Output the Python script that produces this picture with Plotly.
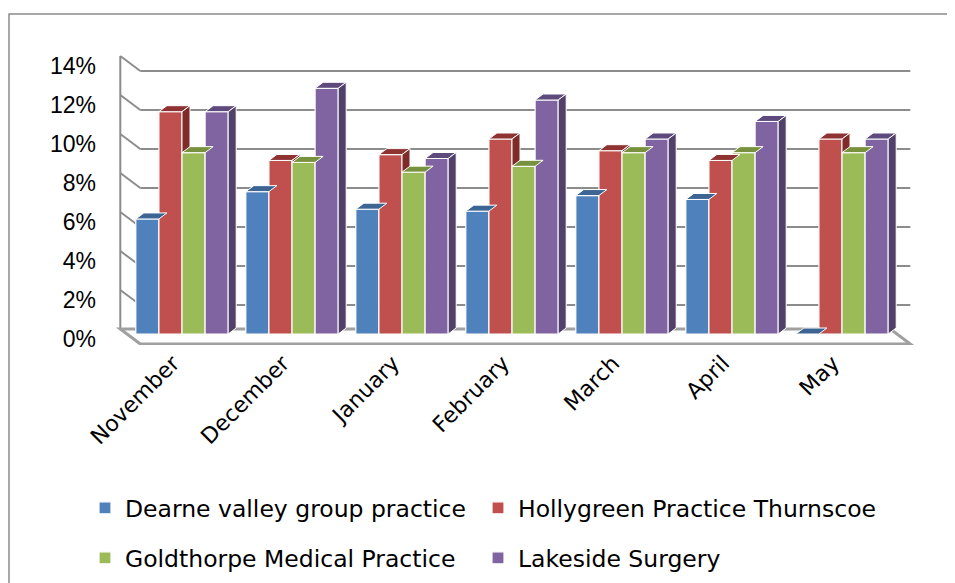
import plotly.graph_objects as go

# ---------------- data ----------------
months = ["November", "December", "January", "February", "March", "April", "May"]
series_names = [
    "Dearne valley group practice",
    "Hollygreen Practice Thurnscoe",
    "Goldthorpe Medical Practice",
    "Lakeside Surgery",
]
dearne = [5.9, 7.3, 6.4, 6.3, 7.1, 6.9, 0.0]
hollygreen = [11.4, 8.9, 9.2, 10.0, 9.4, 8.9, 10.0]
goldthorpe = [9.3, 8.8, 8.3, 8.6, 9.3, 9.3, 9.3]
lakeside = [11.4, 12.6, 9.0, 12.0, 10.0, 10.9, 10.0]
y_tick_values = [0, 2, 4, 6, 8, 10, 12, 14]
y_tick_labels = ["0%", "2%", "4%", "6%", "8%", "10%", "12%", "14%"]

series_values = [dearne, hollygreen, goldthorpe, lakeside]

# ---------------- styles ----------------
front_colors = ["#4F81BD", "#C0504D", "#9BBB59", "#8064A2"]
top_colors = ["#3C6594", "#8E3331", "#77913D", "#5E4A7C"]
side_colors = ["#2F4F76", "#7E2B29", "#627A30", "#51416A"]
grid_color = "#8C8C8C"
FONT = "DejaVu Sans"

# the page body has an 8px margin; compensate so the chart sits at the window origin
SHIFT = 8
FIG_W, FIG_H = 955 - SHIFT, 583 - SHIFT
L, T = 100 - SHIFT, 40 - SHIFT
W_PX, H_PX = 830, 305
R, B = FIG_W - L - W_PX, FIG_H - T - H_PX
PX = 110.0     # pixels per category
PY = 19.5      # pixels per percent
x_lo = -0.5 - 27 / PX
x_hi = x_lo + W_PX / PX
y_lo = -11 / PY
y_hi = y_lo + H_PX / PY

BAR_W = 0.21
DX, DY = 8 / PX, 6 / PY          # bar depth
BX, BY = 13.3 / PX, -10 / PY      # back wall offset
FX, FY = -6.7 / PX, 5 / PY        # front edge offset
n_cat = len(months)


def clip_above(poly, c):
    out = []
    n = len(poly)
    for i in range(n):
        p, q = poly[i], poly[(i + 1) % n]
        pin, qin = p[1] >= c, q[1] >= c
        if pin:
            out.append(p)
        if pin != qin:
            t = (c - p[1]) / (q[1] - p[1])
            out.append((p[0] + t * (q[0] - p[0]), c))
    return out


def px_to_paper_x(px):
    return (px - SHIFT - L) / W_PX


def px_to_paper_y(py):
    return 1 - (py - SHIFT - T) / H_PX


legend_ids = ["legend", "legend2", "legend3", "legend4"]
# legend anchor positions in window pixels (left x, centre y)
legend_pos = [(85, 508), (478, 508), (85, 558), (478, 558)]

fig = go.Figure()

# front faces as real bars
for k, (name, vals) in enumerate(zip(series_names, series_values)):
    fig.add_trace(go.Bar(
        x=list(range(n_cat)), y=vals, name=name,
        width=BAR_W, offset=(k - 2) * BAR_W,
        marker=dict(color=front_colors[k], line=dict(color="white", width=1.2)),
        legend=legend_ids[k],
        hoverinfo="x+y",
    ))

# top and side faces (3-D effect) derived from the same values
for k, vals in enumerate(series_values):
    tx, ty, sx, sy = [], [], [], []
    for i, v in enumerate(vals):
        x0 = i + (k - 2) * BAR_W
        x1 = x0 + BAR_W
        top = [(x0, v), (x1, v), (x1 + DX, v + DY), (x0 + DX, v + DY)]
        for p in top + [top[0]]:
            tx.append(p[0]); ty.append(p[1])
        tx.append(None); ty.append(None)
        side = [(x1, 0), (x1, v), (x1 + DX, v + DY), (x1 + DX, DY)]
        if k < len(series_values) - 1:
            side = clip_above(side, series_values[k + 1][i])
        if len(side) >= 3:
            for p in side + [side[0]]:
                sx.append(p[0]); sy.append(p[1])
            sx.append(None); sy.append(None)
    fig.add_trace(go.Scatter(x=tx, y=ty, mode="lines", fill="toself",
                             fillcolor=top_colors[k], line=dict(color="white", width=1),
                             showlegend=False, hoverinfo="skip"))
    fig.add_trace(go.Scatter(x=sx, y=sy, mode="lines", fill="toself",
                             fillcolor=side_colors[k], line=dict(color="white", width=1),
                             showlegend=False, hoverinfo="skip"))

# walls, gridlines and floor
shapes = []
xl, xr = -0.5, n_cat - 0.5
for t in y_tick_values:
    shapes.append(dict(type="line", xref="x", yref="y", layer="below",
                       x0=xl + BX, y0=t + BY, x1=xr + BX, y1=t + BY,
                       line=dict(color=grid_color, width=2)))
    shapes.append(dict(type="line", xref="x", yref="y", layer="below",
                       x0=xl + FX, y0=t + FY, x1=xl + BX, y1=t + BY,
                       line=dict(color=grid_color, width=2)))
shapes.append(dict(type="line", xref="x", yref="y", layer="below",
                   x0=xl + FX, y0=FY, x1=xl + FX, y1=y_tick_values[-1] + FY,
                   line=dict(color=grid_color, width=2)))
shapes.append(dict(type="path", xref="x", yref="y", layer="below",
                   path=f"M{xl+FX},{FY} L{xr+FX},{FY} L{xr+BX},{BY} L{xl+BX},{BY} Z",
                   line=dict(color="#A0A0A0", width=3)))
# chart frame
shapes.append(dict(type="rect", xref="paper", yref="paper", layer="below",
                   x0=px_to_paper_x(9), y0=px_to_paper_y(600),
                   x1=px_to_paper_x(975), y1=px_to_paper_y(14),
                   line=dict(color="#8A8A8A", width=1.5)))

legend_common = dict(orientation="h", xanchor="left", yanchor="middle",
                     font=dict(family=FONT, size=23.5, color="black"),
                     bgcolor="rgba(0,0,0,0)", itemclick=False, itemdoubleclick=False)
legend_layout = {
    lid: dict(x=px_to_paper_x(px), y=px_to_paper_y(py), **legend_common)
    for lid, (px, py) in zip(legend_ids, legend_pos)
}

fig.update_layout(
    width=FIG_W, height=FIG_H,
    margin=dict(l=L, r=R, t=T, b=B, autoexpand=False),
    paper_bgcolor="white", plot_bgcolor="white",
    barmode="overlay",
    shapes=shapes,
    xaxis=dict(range=[x_lo, x_hi], tickmode="array", tickvals=list(range(n_cat)),
               ticktext=months, tickangle=-45, showgrid=False, zeroline=False,
               showline=False, ticks="", ticklabelshift=-9,
               tickfont=dict(family=FONT, size=22, color="black")),
    yaxis=dict(range=[y_lo, y_hi], tickmode="array", tickvals=y_tick_values,
               ticktext=y_tick_labels, showgrid=False, zeroline=False,
               showline=False, ticks="", ticklabelshift=5, ticklabelstandoff=3,
               tickfont=dict(family="Liberation Sans", size=23, color="black")),
    **legend_layout,
)

fig.write_html("out.html")
